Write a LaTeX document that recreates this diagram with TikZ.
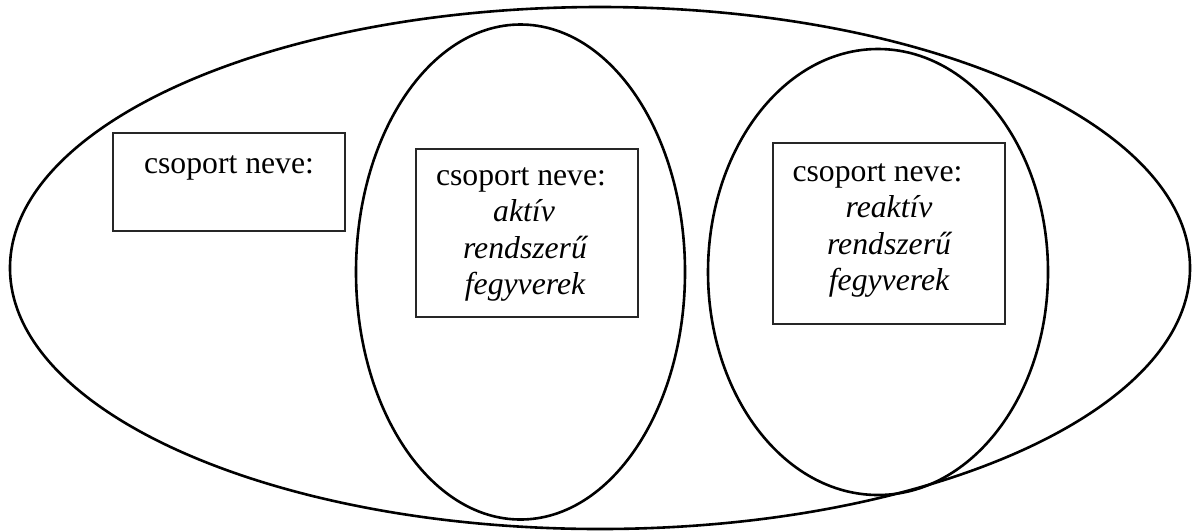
\documentclass[tikz,border=0pt]{standalone}
\usepackage{fontspec}
\setmainfont{Liberation Serif}
\usetikzlibrary{shapes.geometric}

\begin{document}
\begin{tikzpicture}[x=0.5pt,y=-0.5pt,
    grp/.style={draw,ellipse,line width=1.3pt,inner sep=0pt},
    namebox/.style={draw=black!85,rectangle,line width=0.7pt,inner sep=0pt},
    txt/.style={anchor=base,inner sep=0pt,font=\fontsize{15.85pt}{18.25pt}\selectfont}]
      \useasboundingbox (0,0) rectangle (1192,531);
      % the three groups
      \node [grp,minimum width=590pt,minimum height=261pt] (all) at (600,268) {};
      \node [grp,minimum width=164.5pt,minimum height=247.5pt] (aktiv) at (520.5,272) {};
      \node [grp,minimum width=170pt,minimum height=223pt] (reaktiv) at (878,272) {};
      % name boxes
      \node [namebox,minimum width=116pt,minimum height=49pt] (box1) at (229,182) {};
      \node [namebox,minimum width=111pt,minimum height=84pt] (box2) at (527,233) {};
      \node [namebox,minimum width=116pt,minimum height=90.5pt] (box3) at (889,233.5) {};
      % texts
      \node [txt] (n1) at (229,173) {csoport neve:};
      \node [txt] (n2) at (521,185) {csoport neve:};
      \node [txt] (a1) at (524,221.5) {\itshape aktív};
      \node [txt] (a2) at (525,258) {\itshape rendszerű};
      \node [txt] (a3) at (525,294.5) {\itshape fegyverek};
      \node [txt] (n3) at (877.5,181) {csoport neve:};
      \node [txt] (r1) at (889,217.5) {\itshape reaktív};
      \node [txt] (r2) at (889,254) {\itshape rendszerű};
      \node [txt] (r3) at (889,290.5) {\itshape fegyverek};
    \end{tikzpicture}
\end{document}
